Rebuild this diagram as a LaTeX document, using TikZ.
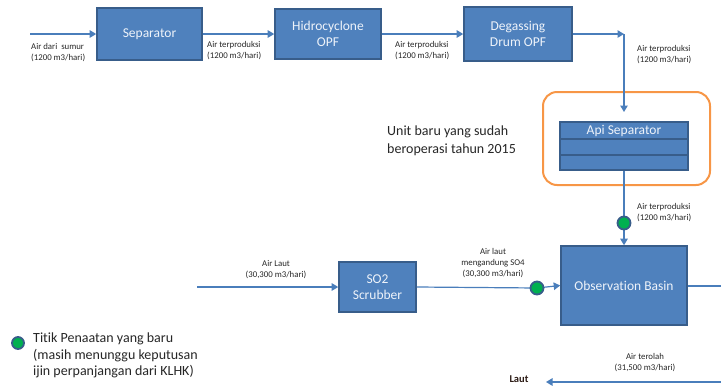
\documentclass[tikz,border=0pt]{standalone}
\usepackage{fontspec}
\setmainfont{Carlito}[Ligatures=NoCommon]
\usetikzlibrary{arrows.meta}

\definecolor{boxfill}{HTML}{4F81BD}
\definecolor{boxedge}{HTML}{385D8A}
\definecolor{flowline}{HTML}{4A7EBB}
\definecolor{unitorange}{HTML}{F79646}
\definecolor{pointgreen}{HTML}{00B050}
\definecolor{boxtext}{HTML}{EEF3FA}
\definecolor{labeltext}{HTML}{262626}
\definecolor{seatext}{HTML}{2B1A14}

\tikzset{
  unit/.style={draw=boxedge, line width=1.6pt, fill=boxfill, text=boxtext,
    font=\fontsize{13.5}{16}\selectfont, align=center, inner sep=0pt},
  apirow/.style={draw=boxedge, line width=1.4pt, fill=boxfill, text=boxtext,
    font=\fontsize{13.5}{15}\selectfont, inner sep=0pt, minimum width=128pt},
  flow/.style={draw=flowline, line width=1.2pt, -{Triangle[width=7.5pt,length=6.5pt]}},
  flowplain/.style={draw=flowline, line width=1.2pt},
  rate/.style={text=labeltext, font=\fontsize{8.8}{11}\selectfont, inner sep=0pt},
  checkpoint/.style={circle, draw=boxedge, line width=1.8pt, fill=pointgreen,
    minimum size=13pt, inner sep=0pt},
  note/.style={text=labeltext, align=left, inner sep=0pt}
}

\begin{document}
\begin{tikzpicture}[x=1pt, y=-1pt]
  \useasboundingbox (0,0) rectangle (721,386);
  \clip (0,0) rectangle (721,386);

  % process units
  \node[unit, minimum width=105pt, minimum height=52pt] (sep) at (149.5,34) {Separator};
  \node[unit, minimum width=106pt, minimum height=50pt] (hid) at (328,34) {Hidrocyclone\\OPF};
  \node[unit, minimum width=108pt, minimum height=54pt] (deg) at (518,34) {Degassing\\Drum OPF};
  \node[unit, minimum width=126pt, minimum height=79pt] (obs) at (624,285.5) {Observation Basin};
  \node[unit, minimum width=77pt, minimum height=50pt] (so2) at (377.5,287) {SO2\\Scrubber};

  % new unit frame and the API separator
  \node[draw=unitorange, line width=2pt, rounded corners=14pt,
        minimum width=167pt, minimum height=93pt] (newunit) at (626.5,138.5) {};
  \node[apirow, minimum height=17pt] (api1) at (624,130.5) {Api Separator};
  \node[apirow, minimum height=16pt] (api2) at (624,147) {};
  \node[apirow, minimum height=15pt] (api3) at (624,162.5) {};

  % free ends of the flow lines
  \coordinate (well) at (30,34);
  \coordinate (bend) at (624,34);
  \coordinate (apiin) at (624,112);
  \coordinate (sea) at (197,287);
  \coordinate (outA) at (725,286);
  \coordinate (outB) at (725,379);
  \coordinate (outC) at (721,382);
  \coordinate (toSea) at (546,382);

  % flows
  \draw[flow] (well) -- (sep.west);
  \draw[flow] (sep.east) -- (hid.west);
  \draw[flow] (hid.east) -- (deg.west);
  \draw[flow] (deg.east) -- (bend);
  \draw[flow] (bend) -- (apiin);
  \draw[flowplain] (api3.south) -- (624,223);
  \draw[flow] (624,223) -- (obs.north);
  \draw[flow] (sea) -- (so2.west);
  \draw[flowplain] (so2.east) -- (537,288);
  \draw[flow] (537,288) -- (obs.west);
  \draw[flow] (obs.east |- outA) -- (outA) -- (outB);
  \draw[flow] (outC) -- (toSea);

  % compliance points
  \node[checkpoint] (cp1) at (624,223) {};
  \node[checkpoint] (cp2) at (537,288) {};

  % flow labels
  \node[rate, anchor=west, align=left] (l1) at (31,52.5) {Air dari\ \ sumur\\(1200 m3/hari)};
  \node[rate, anchor=west, align=left] (l2) at (207,51) {Air terproduksi\\(1200 m3/hari)};
  \node[rate, anchor=west, align=left] (l3) at (395,51) {Air terproduksi\\(1200 m3/hari)};
  \node[rate, anchor=west, align=left] (l4) at (637,55) {Air terproduksi\\(1200 m3/hari)};
  \node[rate, anchor=west, align=left] (l5) at (637,213) {Air terproduksi\\(1200 m3/hari)};
  \node[rate, align=center] (l6) at (276,270) {Air Laut\\(30,300 m3/hari)};
  \node[rate, align=center] (l7) at (493,263.5) {Air laut\\mengandung SO4\\(30,300 m3/hari)};
  \node[rate, align=center] (l8) at (645,363) {Air terolah\\(31,500 m3/hari)};
  \node[inner sep=0pt, text=seatext, font=\fontsize{10.5}{12}\selectfont\bfseries] (laut) at (519,379.5) {Laut};

  % notes
  \node[note, anchor=west, font=\fontsize{14}{18}\selectfont] (unitnote) at (387,141)
    {Unit baru yang sudah\\beroperasi tahun 2015};
  \node[checkpoint, minimum size=12pt] (legdot) at (18,343) {};
  \node[note, anchor=west, font=\fontsize{14}{16.5}\selectfont] (legtext) at (33,355.5)
    {Titik Penaatan yang baru\\(masih menunggu keputusan\\ijin perpanjangan dari KLHK)};
\end{tikzpicture}
\end{document}
